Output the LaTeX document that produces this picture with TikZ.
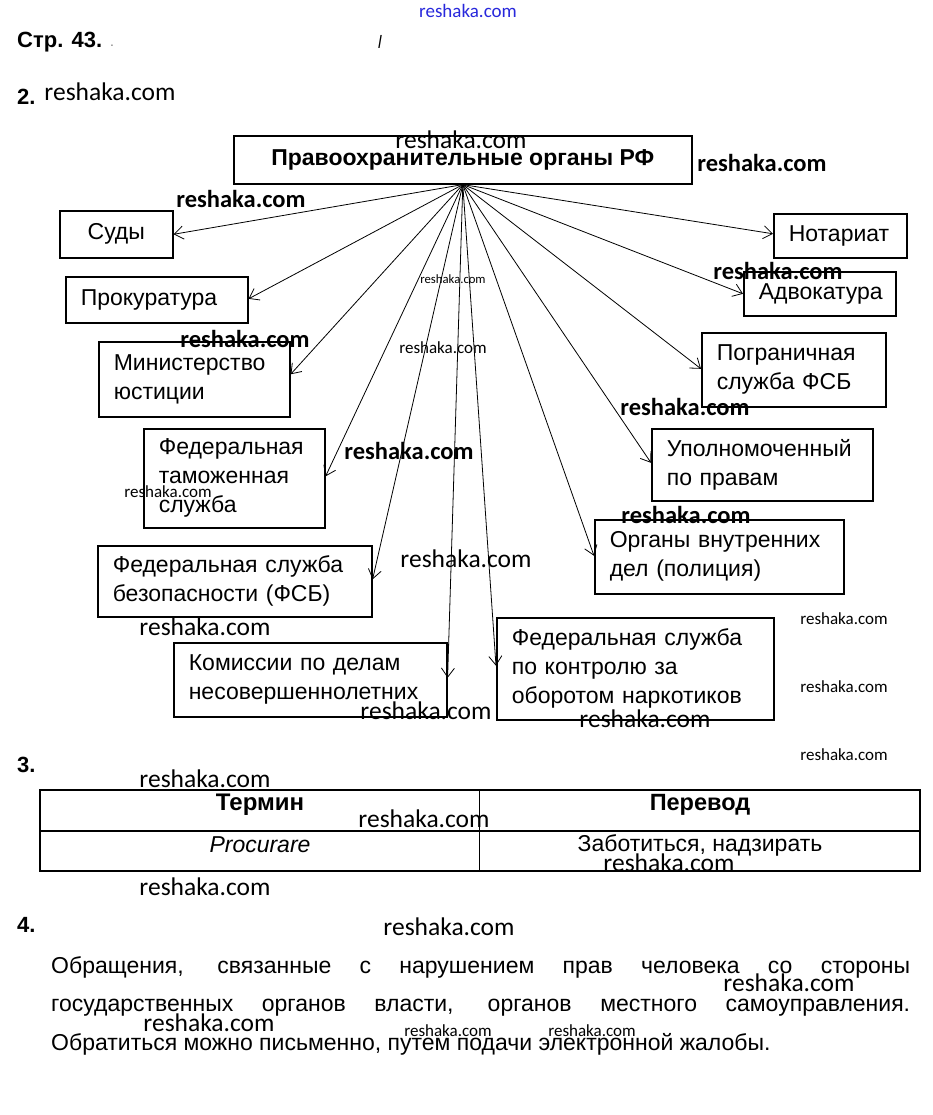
\documentclass[tikz,border=0pt]{standalone}
\usepackage{fontspec}
\setmainfont{Liberation Sans}
\newfontfamily\narrowf[FakeStretch=0.86]{Liberation Sans}
\newfontfamily\wmf{Carlito}
\usetikzlibrary{arrows.meta,calc}
\tikzset{
  box/.style={draw, line width=1.6pt, anchor=north west, inner xsep=15pt, inner ysep=0pt,
    align=left, font=\fontsize{23}{29}\selectfont},
  arr/.style={line width=0.8pt, -{Straight Barb[length=9pt,width=13pt,line width=0.8pt]}},
  wmb/.style={font=\wmf\bfseries\fontsize{24.5}{24.5}\selectfont, inner sep=0pt},
  wmr/.style={font=\wmf\fontsize{25.5}{25.5}\selectfont, inner sep=0pt},
  wms/.style={font=\wmf\fontsize{17}{17}\selectfont, inner sep=0pt},
  wmt/.style={font=\wmf\fontsize{12.7}{12.7}\selectfont, inner sep=0pt},
  hd/.style={font=\bfseries\fontsize{22}{22}\selectfont, inner sep=0pt, anchor=west},
  cell/.style={font=\fontsize{23}{23}\selectfont, inner sep=0pt},
  para/.style={font=\fontsize{23}{23}\selectfont, inner sep=0pt, anchor=base west},
}
\definecolor{wmblue}{RGB}{40,40,220}
\begin{document}
\begin{tikzpicture}[x=1pt,y=-1pt]
\fill[white] (0,0) rectangle (933,1115);
\useasboundingbox (0,0) rectangle (933,1115);

% headings
\node[hd] (s43) at (17,42) {Стр. 43.};
\node[hd, font=\fontsize{14}{14}\selectfont, text=gray] (dot) at (110,46) {.};
\node[hd, font=\narrowf\itshape\fontsize{18}{18}\selectfont] (bar) at (378,42) {l};
\node[hd] (h2) at (17,97) {2.};
\node[hd] (h3) at (17,765) {3.};
\node[hd] (h4) at (17,925) {4.};

% title box
\node[draw, line width=1.6pt, anchor=north west, minimum width=458pt, minimum height=48pt,
  inner sep=0pt, font=\bfseries\fontsize{23}{23}\selectfont] (title) at (233,135)
  {Правоохранительные органы РФ};

% boxes
\node[box, align=center, text width=83pt, minimum height=47pt] (sud) at (59,210) {Суды};
\node[box, text width=152pt, minimum height=46pt] (prok) at (65,276) {Прокуратура};
\node[box, text width=161pt, minimum height=75pt] (min) at (98,341) {Министерство\\юстиции};
\node[box, text width=151pt, minimum height=99pt] (tam) at (143,428) {Федеральная\\таможенная\\служба};
\node[box, text width=244pt, minimum height=71pt] (fsb) at (97,545) {Федеральная~служба\\безопасности~(ФСБ)};
\node[box, text width=243pt, minimum height=74pt] (kom) at (173,642) {Комиссии~по~делам\\несовершеннолетних};
\node[box, text width=247pt, minimum height=102pt] (fskn) at (496,617) {Федеральная~служба\\по~контролю~за\\оборотом~наркотиков};
\node[box, text width=219pt, minimum height=74pt] (ovd) at (594,519) {Органы~внутренних\\дел~(полиция)};
\node[box, text width=191pt, minimum height=72pt] (upl) at (651,428) {Уполномоченный\\по~правам};
\node[box, text width=154pt, minimum height=74pt] (pog) at (701,332) {Пограничная\\служба~ФСБ};
\node[box, text width=122pt, minimum height=44pt] (adv) at (743,271) {Адвокатура};
\node[box, text width=103pt, minimum height=44pt] (not) at (773,213) {Нотариат};

% arrows
\draw[arr] (title.south) -- (sud.east);
\draw[arr] (title.south) -- ([yshift=1pt]prok.east);
\draw[arr] (title.south) -- ([yshift=5pt]min.east);
\draw[arr] (title.south) -- ([yshift=2pt]tam.east);
\draw[arr] (title.south) -- ([yshift=2pt]fsb.east);
\draw[arr] (title.south) -- ([yshift=2pt]kom.east);
\draw[arr] (title.south) -- ([yshift=3pt]fskn.west);
\draw[arr] (title.south) -- ([yshift=1pt]ovd.west);
\draw[arr] (title.south) -- ([yshift=2pt]upl.west);
\draw[arr] (title.south) -- ([yshift=1pt]pog.west);
\draw[arr] (title.south) -- (adv.west);
\draw[arr] (title.south) -- ([yshift=2pt]not.west);

% table
\draw[line width=1.3pt] (40,790) rectangle (920,871);
\draw[line width=1.3pt] (40,831) -- (920,831);
\draw[line width=1pt] (479,790) -- (479,871);
\node[cell, font=\bfseries\fontsize{24}{24}\selectfont] (t1) at (260,805) {Термин};
\node[cell, font=\bfseries\fontsize{23.5}{23.5}\selectfont] (t2) at (700,805) {Перевод};
\node[cell, font=\itshape\fontsize{23}{23}\selectfont] (t3) at (260,845) {Procurare};
\node[cell] (t4) at (700,845) {Заботиться, надзирать};

% paragraph
\node[para] (p1) at (51,973) {\makebox[859pt][s]{Обращения, связанные с нарушением прав человека со стороны}};
\node[para] (p2) at (51,1011) {\makebox[859pt][s]{государственных органов власти, органов местного самоуправления.}};
\node[para] (p3) at (51,1050) {Обратиться можно письменно, путем подачи электронной жалобы.};

% watermarks
\node[wmr, font=\wmf\fontsize{19}{19}\selectfont, text=wmblue] (w0) at (468,11) {reshaka.com};
\node[wmr] (w1) at (110,92) {reshaka.com};
\node[wmr] (w2) at (461,140) {reshaka.com};
\node[wmb] (w3) at (762,163) {reshaka.com};
\node[wmb] (w4) at (241,199) {reshaka.com};
\node[wmt] (w5) at (453,279) {reshaka.com};
\node[wmb] (w6) at (778,271) {reshaka.com};
\node[wmb] (w7) at (245,339) {reshaka.com};
\node[wms] (w8) at (443,348) {reshaka.com};
\node[wmb] (w9) at (685,407) {reshaka.com};
\node[wmb] (w10) at (409,451) {reshaka.com};
\node[wms] (w11) at (168,492) {reshaka.com};
\node[wmb] (w12) at (686,515) {reshaka.com};
\node[wmr] (w13) at (466,559) {reshaka.com};
\node[wms] (w14) at (844,619) {reshaka.com};
\node[wmr] (w15) at (205,627) {reshaka.com};
\node[wms] (w16) at (844,687) {reshaka.com};
\node[wmr] (w17) at (426,711) {reshaka.com};
\node[wmr] (w18) at (645,719) {reshaka.com};
\node[wms] (w19) at (844,755) {reshaka.com};
\node[wmr] (w20) at (205,779) {reshaka.com};
\node[wmr] (w21) at (424,819) {reshaka.com};
\node[wmr] (w22) at (669,863) {reshaka.com};
\node[wmr] (w23) at (205,887) {reshaka.com};
\node[wmr] (w24) at (449,927) {reshaka.com};
\node[wmr] (w25) at (789,983) {reshaka.com};
\node[wmr] (w26) at (209,1023) {reshaka.com};
\node[wms] (w27) at (448,1031) {reshaka.com};
\node[wms] (w28) at (592,1031) {reshaka.com};
\end{tikzpicture}
\end{document}
